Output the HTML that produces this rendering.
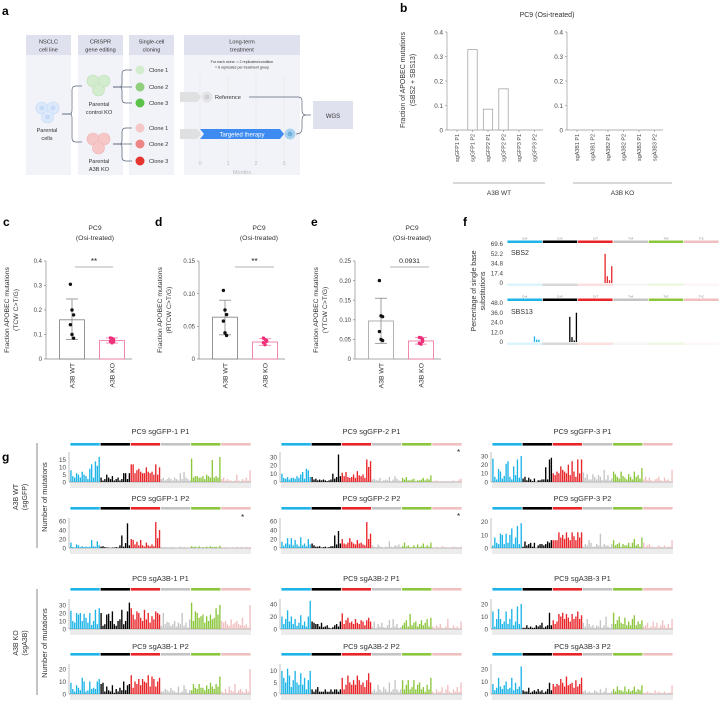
<!DOCTYPE html>
<html><head><meta charset="utf-8">
<style>
html,body{margin:0;padding:0;background:#fff;}
svg{display:block;font-family:"Liberation Sans",sans-serif;}
</style></head>
<body>
<svg id="fig" width="722" height="701" viewBox="0 0 722 701" xmlns="http://www.w3.org/2000/svg">
<g id="panel-a">
<text x="2" y="15" font-size="12" font-weight="bold">a</text>
<rect x="26" y="35" width="45" height="140" fill="#f2f3f8"/>
<rect x="26" y="35" width="45" height="20" fill="#dfe1ef"/>
<rect x="78" y="35" width="45" height="140" fill="#f2f3f8"/>
<rect x="78" y="35" width="45" height="20" fill="#dfe1ef"/>
<rect x="129" y="35" width="45" height="140" fill="#f2f3f8"/>
<rect x="129" y="35" width="45" height="20" fill="#dfe1ef"/>
<rect x="184" y="35" width="116" height="140" fill="#f2f3f8"/>
<rect x="184" y="35" width="116" height="20" fill="#dfe1ef"/>
<g font-size="5.6" fill="#333" text-anchor="middle">
<text x="48.5" y="43.5">NSCLC</text><text x="48.5" y="51.5">cell line</text>
<text x="100.5" y="43.5">CRISPR</text><text x="100.5" y="51.5">gene editing</text>
<text x="151.5" y="43.5">Single-cell</text><text x="151.5" y="51.5">cloning</text>
<text x="242" y="43.5">Long-term</text><text x="242" y="51.5">treatment</text>
<text x="242" y="63" font-size="3.6">For each clone: = 2 replicates/condition</text>
<text x="242" y="68.5" font-size="3.6">= 6 replicates per treatment group</text>
<text x="47" y="132">Parental</text><text x="47" y="140">cells</text>
<text x="99" y="106">Parental</text><text x="99" y="114">control KO</text>
<text x="99" y="163">Parental</text><text x="99" y="171">A3B KO</text>
<text x="200" y="165" fill="#bbb">0</text><text x="228" y="165" fill="#bbb">1</text>
<text x="256" y="165" fill="#bbb">2</text><text x="284" y="165" fill="#bbb">3</text>
<text x="242" y="174" fill="#bbb">Months</text>
</g>
<g stroke="#e4e4e4" stroke-dasharray="1,1"><line x1="200" y1="75" x2="200" y2="160"/><line x1="228" y1="75" x2="228" y2="160"/><line x1="256" y1="75" x2="256" y2="160"/><line x1="284" y1="75" x2="284" y2="160"/></g>
<g fill="#dce9fb" stroke="#c2d7f5" stroke-width="0.6">
<circle cx="42" cy="108" r="6"/><circle cx="53" cy="108" r="6"/><circle cx="47.5" cy="117" r="6"/>
</g>
<g fill="#c6daf6"><circle cx="42" cy="108" r="2.5"/><circle cx="53" cy="108" r="2.5"/><circle cx="47.5" cy="117" r="2.5"/></g>
<g fill="#d3ecce" stroke="#bfe0b8" stroke-width="0.6"><circle cx="93" cy="81" r="6"/><circle cx="104" cy="81" r="6"/><circle cx="98.5" cy="90" r="6"/></g>
<g fill="#f5c7c7" stroke="#eeb3b3" stroke-width="0.6"><circle cx="93" cy="139" r="6"/><circle cx="104" cy="139" r="6"/><circle cx="98.5" cy="148" r="6"/></g>
<g fill="none" stroke="#5a6478" stroke-width="0.7">
<path d="M62 114 H70 Q72 114 72 110 V90 Q72 86 76 86 H82"/>
<path d="M62 114 H70 Q72 114 72 118 V138 Q72 142 76 142 H82"/>
<path d="M113 87 H120 Q122 87 122 83 V74 Q122 70 126 70 H132"/><path d="M113 87 H132"/><path d="M113 87 H120 Q122 87 122 91 V99 Q122 103 126 103 H132"/>
<path d="M113 144 H120 Q122 144 122 140 V132 Q122 128 126 128 H132"/><path d="M113 144 H132"/><path d="M113 144 H120 Q122 144 122 148 V157 Q122 161 126 161 H132"/>
<path d="M249 97 H298 Q302 97 302 101 V110 Q302 115 306 115 H311"/>
<path d="M296 134 Q302 134 302 128 V120 Q302 115 306 115"/>
</g>
<g font-size="5.6" fill="#333">
<circle cx="140" cy="70" r="4.5" fill="#d3ecce"/><text x="149" y="72">Clone 1</text>
<circle cx="140" cy="87" r="4.5" fill="#8fcf7e"/><text x="149" y="89">Clone 2</text>
<circle cx="140" cy="103" r="4.5" fill="#5dc24a"/><text x="149" y="105">Clone 3</text>
<circle cx="140" cy="128" r="4.5" fill="#f5c7c7"/><text x="149" y="130">Clone 1</text>
<circle cx="140" cy="144" r="4.5" fill="#ec8686"/><text x="149" y="146">Clone 2</text>
<circle cx="140" cy="161" r="4.5" fill="#e53530"/><text x="149" y="163">Clone 3</text>
</g>
<path d="M180 92 H197 L201 97 L197 102 H180 Z" fill="#dfe0e2"/>
<circle cx="207" cy="97" r="5.5" fill="#e4e4e6"/><circle cx="207" cy="97" r="2.5" fill="#d0d0d4"/>
<text x="215" y="99" font-size="5.6" fill="#333">Reference</text>
<path d="M180 129 H197 L201 134 L197 139 H180 Z" fill="#dfe0e2"/>
<path d="M200 129 H280 L284 134 L280 139 H200 L204 134 Z" fill="#3d8af0"/>
<text x="242" y="136.5" font-size="6" fill="#fff" text-anchor="middle">Targeted therapy</text>
<circle cx="290" cy="134" r="5.5" fill="#a9d2ee"/><circle cx="290" cy="134" r="2.5" fill="#6fb0dc"/>
<rect x="313" y="101" width="40" height="28" fill="#dfe1ef"/>
<text x="333" y="118" font-size="6" fill="#333" text-anchor="middle">WGS</text>
</g>
<g id="root"></g>
</svg>
<script>
const bCatsWT = ["sgGFP1 P1","sgGFP1 P2","sgGFP2 P1","sgGFP2 P2","sgGFP3 P1","sgGFP3 P2"];
const bCatsKO = ["sgA3B1 P1","sgA3B1 P2","sgA3B2 P1","sgA3B2 P2","sgA3B3 P1","sgA3B3 P2"];
const bValsWT = [0, 0.328, 0.085, 0.168, 0, 0];
const bValsKO = [0, 0, 0, 0, 0, 0];
const bTicks = [0, 0.1, 0.2, 0.3, 0.4];
const bTickLabels = ["0","0.1","0.2","0.3","0.4"];
const cdeGroups = ["A3B WT","A3B KO"];
const cMeans = [0.16, 0.075];
const cErrLo = [0.08, 0.065];
const cErrHi = [0.245, 0.086];
const cPtsWT = [0.305, 0.2, 0.18, 0.14, 0.1, 0.085];
const cPtsKO = [0.086, 0.084, 0.08, 0.072, 0.066, 0.07];
const cTicks = [0, 0.1, 0.2, 0.3, 0.4];
const cTickLabels = ["0","0.1","0.2","0.3","0.4"];
const dMeans = [0.064, 0.026];
const dErrLo = [0.037, 0.021];
const dErrHi = [0.09, 0.031];
const dPtsWT = [0.105, 0.075, 0.068, 0.058, 0.04, 0.036];
const dPtsKO = [0.032, 0.03, 0.028, 0.025, 0.022, 0.027];
const dTicks = [0, 0.05, 0.10, 0.15];
const dTickLabels = ["0","0.05","0.10","0.15"];
const eMeans = [0.097, 0.046];
const eErrLo = [0.04, 0.038];
const eErrHi = [0.155, 0.055];
const ePtsWT = [0.2, 0.11, 0.108, 0.07, 0.05, 0.047];
const ePtsKO = [0.055, 0.054, 0.05, 0.04, 0.038, 0.045];
const eTicks = [0, 0.05, 0.10, 0.15, 0.20, 0.25];
const eTickLabels = ["0","0.05","0.10","0.15","0.20","0.25"];
const mutClasses = ["C>A","C>G","C>T","T>A","T>G","T>C"];
const classColors = ["#1eb4e8","#000000","#e8262a","#c4c4c4","#8cc63e","#f0c0c0"];
const sbs2Idx = [44, 45, 46, 47];
const sbs2Vals = [52, 12, 5, 30];
const sbs13Idx = [12, 13, 14, 28, 29, 30, 31];
const sbs13Vals = [7, 3, 3, 31, 6, 2, 36];
const sbs2Ticks = [0, 17.4, 34.8, 52.2, 69.6];
const sbs13Ticks = [0, 12.0, 24.0, 36.0, 48.0];
const gWT1P1 = [8,4,3,6,5,3,7,5,4,2,9,12,3,14,11,17, 3,1,2,5,3,2,4,1,2,3,1,2,6,6,2,6, 12,12,6,8,9,7,6,6,10,7,6,7,5,12,5,10, 2,3,1,2,3,2,1,3,2,1,6,2,7,3,2,1, 16,3,4,4,3,3,4,2,5,4,3,15,3,4,3,17, 2,3,1,2,1,1,0,1,5,1,0,2,1,3,1,8];
const gWT2P1 = [10,5,4,6,3,5,5,4,7,5,9,12,4,16,14,6, 6,3,4,2,3,2,3,2,1,2,3,10,4,6,33,7, 11,7,12,6,5,6,9,5,13,8,7,9,5,27,18,25, 3,4,2,2,5,1,2,3,2,6,1,3,7,4,2,1, 5,3,6,2,2,3,4,1,2,2,3,5,2,4,3,8, 1,0,2,1,1,0,0,1,0,1,0,2,0,1,3,4];
const gWT3P1 = [27,6,3,15,12,4,7,21,24,6,3,18,8,26,5,30, 4,6,2,5,3,1,4,0,2,2,3,3,17,3,26,28, 10,8,12,10,18,14,12,10,20,8,24,12,6,26,10,26, 11,5,9,3,3,9,6,3,8,6,2,14,3,8,2,4, 12,9,6,4,12,7,5,3,9,6,3,12,6,8,4,16, 3,6,2,5,2,1,3,4,6,2,1,5,2,3,1,14];
const gWT1P2 = [12,2,1,8,6,2,4,2,3,2,3,18,4,3,15,6, 3,4,2,1,1,0,1,1,2,1,6,28,3,11,55,6, 20,18,8,14,6,18,6,3,12,6,4,8,4,58,22,40, 2,1,2,1,1,2,0,1,1,1,3,1,2,1,1,1, 4,2,3,1,4,1,2,1,3,1,4,2,2,3,1,5, 2,1,2,0,1,1,0,1,3,1,0,2,1,3,1,2];
const gWT2P2 = [14,5,10,22,8,22,6,18,8,4,24,6,10,4,20,8, 10,6,3,3,4,1,2,3,1,2,4,4,28,8,38,10, 20,10,8,12,22,14,10,8,18,10,12,8,6,58,20,32, 6,3,2,8,4,2,1,3,2,15,3,2,6,4,8,2, 4,12,3,6,2,2,6,2,8,2,4,10,2,6,3,12, 2,1,3,1,1,4,0,2,1,1,2,3,0,2,1,3];
const gWT3P2 = [2,8,4,3,11,10,3,11,4,10,15,3,8,17,3,19, 1,5,2,3,4,1,4,0,2,3,3,2,3,5,4,6, 6,6,6,12,8,10,7,12,8,6,12,9,6,12,8,12, 1,3,2,6,4,1,1,3,2,11,1,3,2,2,1,3, 6,2,3,4,1,3,2,2,4,1,4,7,2,3,1,8, 4,1,2,3,1,1,0,1,2,1,0,2,0,1,1,6];
const gKO1P1 = [23,10,8,20,18,20,10,19,14,8,20,5,10,24,6,26, 20,4,6,18,19,10,22,6,4,10,12,24,6,10,22,33, 26,18,12,22,20,14,10,24,12,20,8,16,12,22,20,18, 4,20,6,9,8,4,6,10,3,8,6,20,4,8,2,12, 33,10,22,20,14,16,18,8,16,10,18,12,14,26,18,30, 10,8,10,6,4,12,6,8,10,6,5,14,4,6,2,30];
const gKO2P1 = [20,8,16,30,12,20,8,16,5,10,22,6,12,4,20,45, 12,10,8,8,4,10,3,4,6,2,1,3,6,8,4,12, 25,8,14,18,10,12,8,16,10,8,14,12,6,14,18,12, 4,12,2,8,4,10,3,2,6,14,2,16,4,8,2,3, 6,10,14,4,24,6,10,12,4,8,14,6,10,16,4,18, 4,2,6,3,8,2,0,4,16,2,0,6,2,4,1,12];
const gKO3P1 = [14,2,8,16,8,4,6,14,4,8,16,3,6,18,4,20, 1,1,3,1,2,1,1,3,2,3,5,1,2,3,13,3, 7,4,6,12,10,13,8,12,9,6,12,8,10,14,8,11, 5,2,8,4,2,3,1,3,2,7,1,3,10,2,1,4, 13,4,7,10,5,4,9,3,6,3,8,11,3,6,4,7, 2,3,5,1,2,6,2,5,1,3,7,3,1,4,1,8];
const gKO1P2 = [9,4,2,7,5,3,13,10,2,3,10,4,5,4,10,12, 8,9,2,6,3,2,7,1,4,2,5,3,10,3,7,8, 15,5,10,8,12,7,12,10,9,15,6,14,12,6,10,13, 2,2,4,3,2,5,3,2,1,6,1,2,7,4,1,3, 3,8,5,4,8,5,5,3,7,4,9,6,4,8,6,14, 2,1,4,1,6,3,2,8,1,3,4,2,1,4,2,20];
const gKO2P2 = [10,7,5,11,8,3,6,10,5,4,9,4,7,2,6,10, 2,1,2,3,1,1,1,2,1,1,2,1,2,2,1,2, 7,2,4,8,5,4,6,4,8,6,4,5,3,6,9,5, 1,2,1,4,2,1,3,2,1,5,1,2,6,2,1,2, 6,2,4,6,2,3,6,2,4,5,2,3,1,4,2,7, 1,0,2,1,1,3,0,2,4,1,0,2,1,3,1,5];
const gKO3P2 = [8,3,5,13,6,4,7,10,4,5,13,3,9,4,6,22, 3,2,2,5,1,2,3,2,4,2,3,1,2,4,9,3, 8,6,8,7,12,9,6,14,7,8,9,5,11,6,8,13, 2,3,1,2,1,1,3,2,1,4,1,2,5,1,1,2, 4,2,6,3,3,2,6,2,4,2,3,6,2,4,3,7, 1,1,2,1,1,0,3,1,2,1,0,2,0,1,1,7];
const gTitles = ["PC9 sgGFP-1 P1","PC9 sgGFP-2 P1","PC9 sgGFP-3 P1","PC9 sgGFP-1 P2","PC9 sgGFP-2 P2","PC9 sgGFP-3 P2","PC9 sgA3B-1 P1","PC9 sgA3B-2 P1","PC9 sgA3B-3 P1","PC9 sgA3B-1 P2","PC9 sgA3B-2 P2","PC9 sgA3B-3 P2"];
const gTicks = [[0,5,10,15],[0,10,20,30],[0,10,20,30],[0,20,40,60],[0,20,40,60],[0,10,20],[0,10,20,30],[0,20,40],[0,10,20],[0,10,20],[0,5,10],[0,10,20]];
const gMax = [20.4,36,34.6,67,67,23,37.5,48,24,24,13,24];

const NS = "http://www.w3.org/2000/svg";
const root = document.getElementById('root');
function el(tag, attrs, parent, txt){
  const e = document.createElementNS(NS, tag);
  for (const k in attrs) e.setAttribute(k, attrs[k]);
  if (txt !== undefined) e.textContent = txt;
  (parent || root).appendChild(e);
  return e;
}

const pb = el('g', {});


el('text', {x:400, y:12, 'font-size':12, 'font-weight':'bold'}, pb, 'b');
el('text', {x:547, y:17, 'font-size':7, fill:'#333', 'text-anchor':'middle'}, pb, 'PC9 (Osi-treated)');
const bY = v => 130 - v / 0.4 * 98;
const byl = el('text', {transform:'translate(405,80) rotate(-90)', 'font-size':7, fill:'#333', 'text-anchor':'middle'}, pb);


el('tspan', {x:0, y:0}, byl, 'Fraction of APOBEC mutations');
el('tspan', {x:0, y:10}, byl, '(SBS2 + SBS13)');
function bPanel(ax, cats, vals, grp, gx1, gx2){
  el('line', {x1:ax, y1:bY(0.4), x2:ax, y2:130, stroke:'#999', 'stroke-width':0.7}, pb);
  el('line', {x1:ax, y1:130, x2:ax+96, y2:130, stroke:'#999', 'stroke-width':0.7}, pb);
  bTicks.forEach((t,i)=>{
    el('line', {x1:ax-2, y1:bY(t), x2:ax, y2:bY(t), stroke:'#999', 'stroke-width':0.7}, pb);
    el('text', {x:ax-4, y:bY(t)+2.3, 'font-size':6.3, fill:'#444', 'text-anchor':'end'}, pb, bTickLabels[i]);
  });
  cats.forEach((c,i)=>{
    const cx = ax + 10 + i*15.5;
    if (vals[i] > 0) {
      const r = el('rect', {x:cx-4.7, y:bY(vals[i]), width:9.4, height:130-bY(vals[i]), fill:'#fff', stroke:'#999', 'stroke-width':0.7}, pb);
      
      
    }
    el('line', {x1:cx, y1:130, x2:cx, y2:132, stroke:'#999', 'stroke-width':0.7}, pb);
    el('text', {transform:`translate(${cx+2},134) rotate(-90)`, 'font-size':5.4, fill:'#444', 'text-anchor':'end'}, pb, c);
  });
  el('line', {x1:gx1, y1:183, x2:gx2, y2:183, stroke:'#999', 'stroke-width':0.7}, pb);
  el('text', {x:(gx1+gx2)/2, y:195, 'font-size':6.5, fill:'#333', 'text-anchor':'middle'}, pb, grp);
}
bPanel(447, bCatsWT, bValsWT, 'A3B WT', 453, 545);
bPanel(567, bCatsKO, bValsKO, 'A3B KO', 573, 672);

function cdePanel(letter, lx, ax, tcx, ylab2, ticks, tickLabels, means, lo, hi, ptsW, ptsK, sig, sigX1, sigX2, wtStroke){
  const g = el('g', {});
  
  
  el('text', {x:lx, y:226, 'font-size':12, 'font-weight':'bold'}, g, letter);
  el('text', {x:tcx, y:230, 'font-size':6.8, fill:'#333', 'text-anchor':'middle'}, g, 'PC9');
  el('text', {x:tcx, y:240, 'font-size':6.8, fill:'#333', 'text-anchor':'middle'}, g, '(Osi-treated)');
  const tmax = ticks[ticks.length-1];
  const Y = v => 359 - v / tmax * 98;
  const yl = el('text', {transform:`translate(${ax-37},310) rotate(-90)`, 'font-size':6.8, fill:'#333', 'text-anchor':'middle'}, g);
  
  
  el('tspan', {x:0, y:0}, yl, 'Fraction APOBEC mutations');
  el('tspan', {x:0, y:9}, yl, ylab2);
  el('line', {x1:ax, y1:Y(tmax), x2:ax, y2:359, stroke:'#888', 'stroke-width':0.7}, g);
  el('line', {x1:ax, y1:359, x2:ax+86, y2:359, stroke:'#888', 'stroke-width':0.7}, g);
  ticks.forEach((t,i)=>{
    el('line', {x1:ax-2, y1:Y(t), x2:ax, y2:Y(t), stroke:'#888', 'stroke-width':0.7}, g);
    el('text', {x:ax-4, y:Y(t)+2.2, 'font-size':6, fill:'#444', 'text-anchor':'end'}, g, tickLabels[i]);
  });
  const centers = [ax+26, ax+66];
  const colors = [wtStroke, '#f27aa6'];
  const pts = [ptsW, ptsK];
  cdeGroups.forEach((gn,i)=>{
    const cx = centers[i];
    const r = el('rect', {x:cx-12.5, y:Y(means[i]), width:25, height:359-Y(means[i]), fill:'#fff', stroke:colors[i], 'stroke-width':0.9}, g);
    
    
    const ec = i===0 ? '#888' : '#f27aa6';
    el('line', {x1:cx, y1:Y(hi[i]), x2:cx, y2:Y(lo[i]), stroke:ec, 'stroke-width':0.8}, g);
    el('line', {x1:cx-6, y1:Y(hi[i]), x2:cx+6, y2:Y(hi[i]), stroke:ec, 'stroke-width':0.8}, g);
    el('line', {x1:cx-6, y1:Y(lo[i]), x2:cx+6, y2:Y(lo[i]), stroke:ec, 'stroke-width':0.8}, g);
    pts[i].forEach((p,j)=>{
      const dx = (j%3-1)*1.6;
      const c = el('circle', {cx:cx+dx, cy:Y(p), r:1.7, fill: i===0 ? '#111' : '#ee2f7a'}, g);
      
      
    });
    el('text', {transform:`translate(${cx+2.5},363) rotate(-90)`, 'font-size':6.8, fill:'#333', 'text-anchor':'end'}, g, gn);
  });
  el('line', {x1:sigX1, y1:267, x2:sigX2, y2:267, stroke:'#999', 'stroke-width':0.8}, g);
  el('text', {x:(sigX1+sigX2)/2, y: sig === '**' ? 264 : 263, 'font-size': sig==='**'?8:6.8, fill:'#222', 'text-anchor':'middle'}, g, sig);
}
cdePanel('c', 3, 46, 95, '(TCW C>T/G)', cTicks, cTickLabels, cMeans, cErrLo, cErrHi, cPtsWT, cPtsKO, '**', 75, 113, '#888');
cdePanel('d', 155, 199, 259, '(RTCW C>T/G)', dTicks, dTickLabels, dMeans, dErrLo, dErrHi, dPtsWT, dPtsKO, '**', 235, 274, '#888');
cdePanel('e', 311, 355, 412, '(YTCW C>T/G)', eTicks, eTickLabels, eMeans, eErrLo, eErrHi, ePtsWT, ePtsKO, '0.0931', 390, 429, '#aaa');

const pf = el('g', {});


el('text', {x:463, y:226, 'font-size':12, 'font-weight':'bold'}, pf, 'f');
const fyl = el('text', {transform:'translate(476,291) rotate(-90)', 'font-size':7, fill:'#333', 'text-anchor':'middle'}, pf);
el('tspan', {x:0, y:0}, fyl, 'Percentage of single base');
el('tspan', {x:0, y:9}, fyl, 'substitutions');
function colorBar(g, x0, w, y, h){
  mutClasses.forEach((m,i)=>{
    const r = el('rect', {x:x0 + i*w/6 + 0.4, y:y, width:w/6 - 0.8, height:h, fill:classColors[i]}, g);
    
    
  });
}
function sigPlot(name, barY, base, ticks, idx, vals){
  colorBar(pf, 507, 212, barY, 2.5);
  mutClasses.forEach((m,i)=>el('text', {x:507+(i+0.5)*212/6, y:barY-1, 'font-size':2.6, fill:'#666', 'text-anchor':'middle'}, pf, m));
  const tmax = ticks[ticks.length-1];
  const Y = v => base - v / tmax * 39;
  ticks.forEach(t=>el('text', {x:503, y:Y(t)+2.2, 'font-size':6.3, fill:'#444', 'text-anchor':'end'}, pf, t === 0 ? '0' : t.toFixed(1)));
  el('text', {x:511, y:base-28, 'font-size':7, fill:'#333'}, pf, name);
  mutClasses.forEach((m,i)=>el('rect', {x:507+i*212/6, y:base+0.5, width:212/6, height:2.5, fill:classColors[i], opacity:0.15}, pf));
  idx.forEach((k,j)=>{
    const r = el('rect', {x:507 + k*212/96 + 0.3, y:Y(vals[j]), width:1.3, height:base - Y(vals[j]), fill:classColors[Math.floor(k/16)]}, pf);
    
    
  });
}
sigPlot('SBS2', 240.5, 283, sbs2Ticks, sbs2Idx, sbs2Vals);
sigPlot('SBS13', 298.5, 342, sbs13Ticks, sbs13Idx, sbs13Vals);

const pg = el('g', {});


el('text', {x:2, y:461, 'font-size':12, 'font-weight':'bold'}, pg, 'g');
const gData = [gWT1P1,gWT2P1,gWT3P1,gWT1P2,gWT2P2,gWT3P2,gKO1P1,gKO2P1,gKO3P1,gKO1P2,gKO2P2,gKO3P2];
const colX = [70, 281, 492];
const rowBase = [482, 548, 629, 694];
const rowTitleY = [434, 501, 581, 649];
const rowBarY = [443, 507, 588, 653];
const pw = 181, ph = 30;
gData.forEach((arr, p)=>{
  const r = Math.floor(p/3), c = p%3;
  const x0 = colX[c], base = rowBase[r];
  const g = el('g', {}, pg);
  
  
  el('text', {x:x0+pw/2, y:rowTitleY[r], 'font-size':7.5, fill:'#333', 'text-anchor':'middle'}, g, gTitles[p]);
  colorBar(g, x0, pw, rowBarY[r], 2.6);
  const Y = v => base - v / gMax[p] * ph;
  el('line', {x1:x0-1, y1:base-ph, x2:x0-1, y2:base, stroke:'#999', 'stroke-width':0.6}, g);
  el('line', {x1:x0-1, y1:base, x2:x0+pw, y2:base, stroke:'#888', 'stroke-width':0.7}, g);
  gTicks[p].forEach(t=>el('text', {x:x0-4, y:Y(t)+2.3, 'font-size':6.3, fill:'#444', 'text-anchor':'end'}, g, String(t)));
  el('rect', {x:x0, y:base+1, width:pw, height:5, fill:'#ececec'}, g);
  const bw = pw/96;
  arr.forEach((v,k)=>{
    const b = el('rect', {x:x0 + k*bw + 0.25, y:Y(v), width:bw*0.72, height:base - Y(v), fill:classColors[Math.floor(k/16)]}, g);
    
    
  });
});
[[457,455],[241,520],[457,519]].forEach(a=>{
  const s = el('text', {x:a[0], y:a[1], 'font-size':8, fill:'#222'}, pg, '*');
  
  
});
function groupLabel(line1, line2, yc, y1, y2){
  el('line', {x1:37, y1:y1, x2:37, y2:y2, stroke:'#555', 'stroke-width':0.7}, pg);
  const t = el('text', {transform:`translate(18,${yc}) rotate(-90)`, 'font-size':7, fill:'#333', 'text-anchor':'middle'}, pg);
  
  
  el('tspan', {x:0, y:0}, t, line1);
  el('tspan', {x:0, y:9}, t, line2);
  el('text', {transform:`translate(47,${yc}) rotate(-90)`, 'font-size':7.5, fill:'#333', 'text-anchor':'middle'}, pg, 'Number of mutations');
}
groupLabel('A3B WT', '(sgGFP)', 497, 443, 548);
groupLabel('A3B KO', '(sgA3B)', 643, 589, 695);
</script>
</body></html>
